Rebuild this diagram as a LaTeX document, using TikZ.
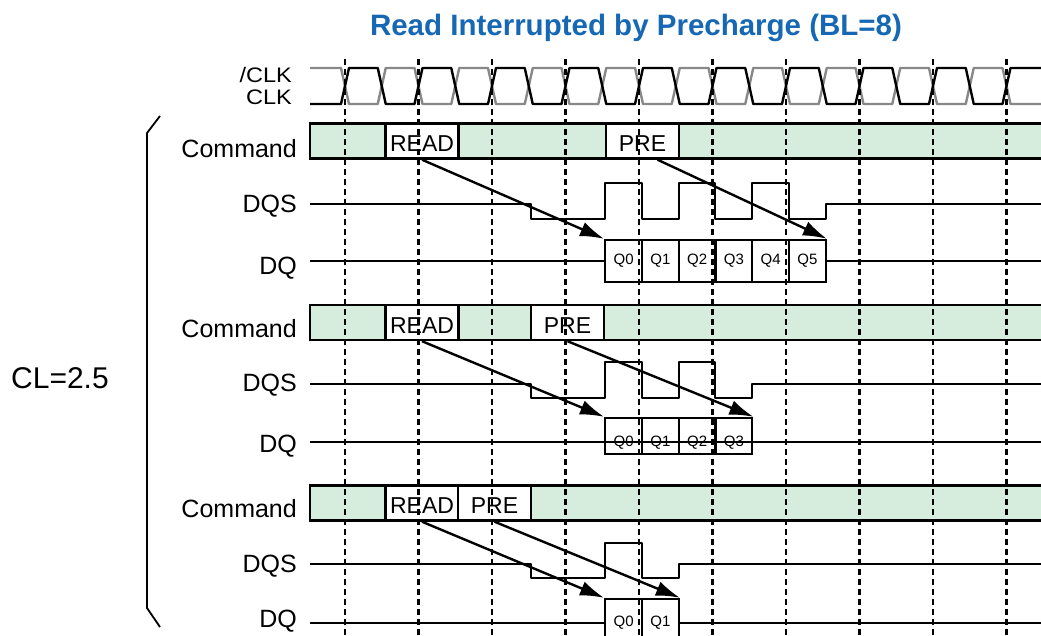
\documentclass[tikz,border=0pt]{standalone}
\usepackage{fontspec}
\setmainfont{Liberation Sans}
\usepackage{graphicx}
\usetikzlibrary{arrows.meta}
\definecolor{cmdgreen}{RGB}{214,236,220}
\definecolor{titleblue}{RGB}{22,104,180}
\definecolor{clkgray}{RGB}{136,136,136}

\begin{document}
\begin{tikzpicture}[x=1pt,y=-1pt]
\tikzset{
  sig/.style={line width=2.4pt, line join=round},
  tick/.style={line width=2.4pt, dash pattern=on 6pt off 4pt},
  band/.style={draw, line width=2.4pt, fill=cmdgreen},
  cmd/.style={draw, line width=2.4pt, fill=white, minimum width=73pt, minimum height=35pt, inner sep=0pt, font=\fontsize{23}{23}\selectfont},
  qbox/.style={draw, line width=2.4pt, fill=white, minimum width=36.75pt, inner sep=0pt, font=\fontsize{15}{15}\selectfont},
  lbl/.style={anchor=east, inner sep=0pt, font=\fontsize{25}{25}\selectfont},
  lat/.style={-{Latex[length=24pt,width=15pt]}, line width=2.4pt}
}
\useasboundingbox (0,0) rectangle (1041,635);

\node[anchor=base, text=titleblue, font=\bfseries\fontsize{29.5}{30}\selectfont] (title) at (636,35) {Read Interrupted by Precharge (BL=8)};

% clock
\node[lbl, font=\fontsize{21}{21}\selectfont] (nclk) at (292,75) {\scalebox{1.12}[1]{/CLK}};
\node[lbl, font=\fontsize{21}{21}\selectfont] (clk) at (292,97) {\scalebox{1.12}[1]{CLK}};
\draw[sig, clkgray] (310,68) \foreach \k in {0,2,...,16} {
    -- ({345+36.75*\k-4},68) -- ({345+36.75*\k+4},104)
    -- ({345+36.75*(\k+1)-4},104) -- ({345+36.75*(\k+1)+4},68) }
  -- (1002.5,68) -- (1010.5,104) -- (1045,104);
\draw[sig] (310,104) \foreach \k in {0,2,...,16} {
    -- ({345+36.75*\k-4},104) -- ({345+36.75*\k+4},68)
    -- ({345+36.75*(\k+1)-4},68) -- ({345+36.75*(\k+1)+4},104) }
  -- (1002.5,104) -- (1010.5,68) -- (1045,68);

\node[anchor=west, inner sep=0pt, font=\fontsize{30}{30}\selectfont] (cl) at (11,378) {CL=2.5};
\draw[line width=1.8pt] (160,116) -- (147,133) -- (147,608) -- (160,627);

% first case
\node[lbl] (cmd1) at (297,149) {Command};
\node[lbl] (dqs1) at (297,206) {DQS};
\node[lbl] (dq1) at (297,268) {DQ};
\draw[band] (310,123.5) rectangle (1045,158.5);
\node[cmd] (read1) at (422,141) {\raisebox{-3pt}[\height][\depth]{READ}};
\node[cmd] (pre1) at (642.5,141) {\raisebox{-3pt}[\height][\depth]{PRE}};
\draw[sig] (310,204) -- (531,204) -- (531,219) -- (605,219) -- (605,183) -- (642,183)
  -- (642,219) -- (679,219) -- (679,183) -- (715,183) -- (715,219) -- (752,219)
  -- (752,183) -- (789,183) -- (789,219) -- (826,219) -- (826,204) -- (1045,204);
\foreach \i in {0,...,5}
  \node[qbox, minimum height=42pt] (qa\i) at ({623.6+36.75*\i},261) {Q\i};
\draw[sig] (310,261) -- (qa0.west);
\draw[sig] (qa5.east) -- (1045,261);
\draw[lat] (read1.south) -- (qa0.north west);
\draw[lat] ([xshift=15pt]pre1.south) -- (qa5.north east);

% second case
\node[lbl] (cmd2) at (297,329) {Command};
\node[lbl] (dqs2) at (297,385) {DQS};
\node[lbl] (dq2) at (297,446) {DQ};
\draw[band] (310,305) rectangle (1045,340);
\node[cmd] (read2) at (422,322.5) {\raisebox{-3pt}[\height][\depth]{READ}};
\node[cmd] (pre2) at (567.5,322.5) {\raisebox{-3pt}[\height][\depth]{PRE}};
\draw[sig] (310,384) -- (531,384) -- (531,398) -- (605,398) -- (605,362) -- (642,362)
  -- (642,398) -- (679,398) -- (679,362) -- (715,362) -- (715,398) -- (752,398)
  -- (752,384) -- (1045,384);
\foreach \i in {0,...,3}
  \node[qbox, minimum height=36pt] (qb\i) at ({623.6+36.75*\i},436) {\raisebox{-7pt}[\height][\depth]{Q\i}};
\draw[sig] (310,442) -- (1045,442);
\draw[lat] (read2.south) -- (qb0.north west);
\draw[lat] (pre2.south) -- (qb3.north east);

% third case
\node[lbl] (cmd3) at (297,509) {Command};
\node[lbl] (dqs3) at (297,566) {DQS};
\node[lbl] (dq3) at (297,621) {DQ};
\draw[band] (310,485.5) rectangle (1045,520.5);
\node[cmd] (read3) at (422,503) {\raisebox{-3pt}[\height][\depth]{READ}};
\node[cmd] (pre3) at (494.5,503) {\raisebox{-3pt}[\height][\depth]{PRE}};
\draw[sig] (310,564) -- (531,564) -- (531,578) -- (605,578) -- (605,543) -- (642,543)
  -- (642,578) -- (679,578) -- (679,564) -- (1045,564);
\foreach \i in {0,1}
  \node[qbox, minimum height=48pt] (qc\i) at ({623.6+36.75*\i},623) {Q\i};
\draw[sig] (310,623) -- (qc0.west);
\draw[sig] (qc1.east) -- (1045,623);
\draw[lat] (read3.south) -- (qc0.north west);
\draw[lat] (pre3.south) -- (qc1.north east);

% clock edges
\foreach \n in {0,...,9}
  \draw[tick] ({345+73.5*\n},59) -- ({345+73.5*\n},640);
\end{tikzpicture}
\end{document}
